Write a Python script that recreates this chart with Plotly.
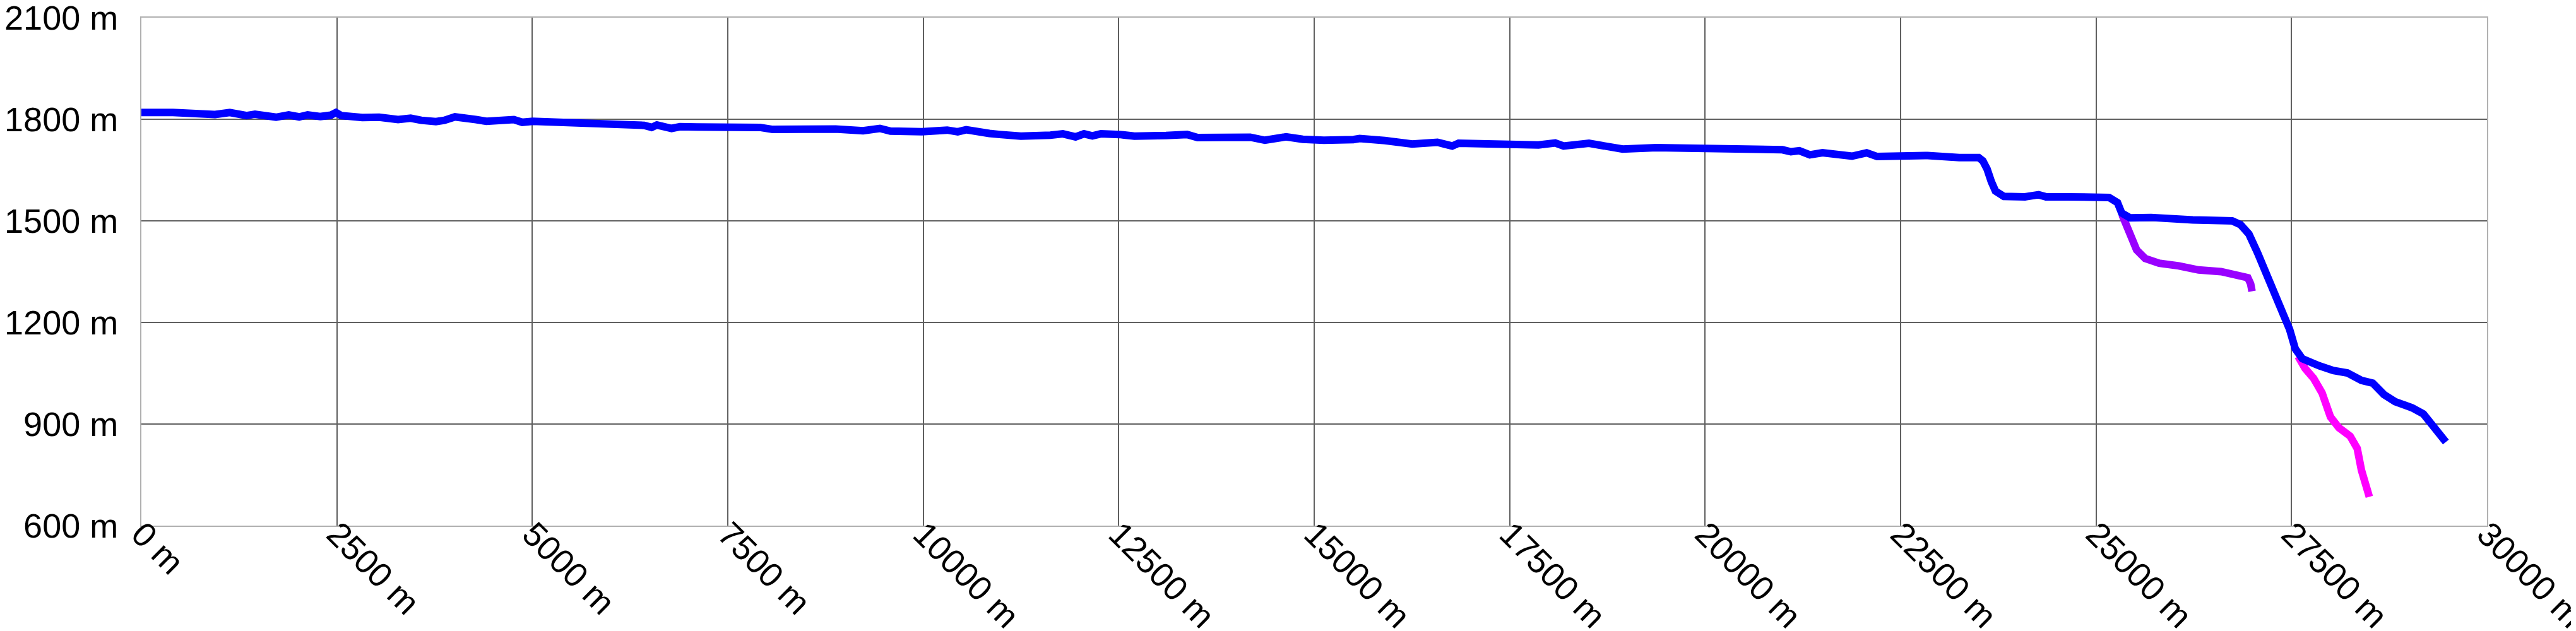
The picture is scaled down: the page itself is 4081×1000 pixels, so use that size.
import plotly.graph_objects as go

# Main profile (blue)
main_x = [0, 404, 942, 1130, 1346, 1453, 1722, 1884, 2018, 2126, 2287, 2422, 2489, 2556, 2826, 3041, 3283, 3444, 3579, 3767,
          3875, 4010, 4279, 4413, 4763, 4871, 5005, 5490, 6028, 6431, 6526, 6593, 6781, 6889, 7104, 7508, 7589,
          7750, 7911, 8073, 8557, 8880, 9230, 9445, 9580, 9983, 10306, 10441, 10549, 10710, 10845, 10979, 11248,
          11625, 11786, 11948, 12056, 12163, 12271, 12513, 12701, 13105, 13374, 13509, 13912, 14181, 14370, 14639, 14854, 15123,
          15500, 15581, 15904, 16253, 16576, 16765, 16846, 17249, 17518, 17868, 18083, 18190, 18514, 18810, 18944,
          19375, 19644, 19779, 20182, 20586, 20774, 20989, 21097, 21205, 21339, 21501, 21878, 22066, 22200, 22497, 22658, 22766, 22846,
          23250, 23498, 23552, 23606, 23660, 23713, 23821, 24090, 24265, 24359, 24628, 25166, 25274, 25328, 25435, 25704,
          26236, 26740, 26847, 26955, 27063, 27171, 27315, 27423, 27476, 27548, 27638, 27854, 28034, 28214, 28394, 28538,
          28682, 28826, 29042, 29186, 29330, 29474]
main_y = [1820, 1820, 1814, 1820, 1811, 1815, 1806, 1813, 1807, 1813, 1808, 1812, 1820, 1811, 1805, 1806, 1799, 1803, 1797, 1793,
          1797, 1807, 1799, 1794, 1799, 1791, 1794, 1791, 1784, 1782, 1776, 1783, 1773, 1778, 1777, 1777, 1779,
          1774, 1776, 1770, 1772, 1771, 1766, 1773, 1765, 1763, 1768, 1763, 1769, 1766, 1758, 1755, 1750,
          1753, 1757, 1748, 1757, 1751, 1757, 1755, 1750, 1752, 1755, 1746, 1747, 1747, 1738, 1748, 1741, 1738,
          1740, 1743, 1737, 1727, 1732, 1721, 1729, 1726, 1727, 1724, 1730, 1721, 1729, 1720, 1712,
          1716, 1715, 1718, 1712, 1715, 1712, 1710, 1704, 1707, 1695, 1701, 1691, 1701, 1690, 1690, 1693, 1690, 1693,
          1687, 1687, 1677, 1653, 1616, 1588, 1572, 1571, 1577, 1571, 1571, 1569, 1554, 1523, 1509, 1510,
          1503, 1500, 1489, 1461, 1407, 1350, 1272, 1215, 1179, 1122, 1093, 1072, 1058, 1051, 1029, 1021,
          987, 966, 948, 930, 888, 847]

# Branch 1 (violet)
branch1_x = [25333, 25411, 25519, 25627, 25807, 26059, 26311, 26599, 26815, 26941, 26977, 26995]
branch1_y = [1518, 1471, 1414, 1389, 1375, 1367, 1355, 1350, 1342, 1332, 1314, 1292]

# Branch 2 (magenta)
branch2_x = [27584, 27674, 27782, 27890, 27998, 28106, 28250, 28340, 28394, 28448, 28495]
branch2_y = [1100, 1064, 1035, 992, 921, 889, 864, 828, 764, 721, 685]

x_ticks = list(range(0, 30001, 2500))
y_ticks = list(range(600, 2101, 300))

fig = go.Figure()
fig.add_trace(go.Scatter(x=branch1_x, y=branch1_y, mode="lines",
                         line=dict(color="#9900FF", width=12), showlegend=False))
fig.add_trace(go.Scatter(x=branch2_x, y=branch2_y, mode="lines",
                         line=dict(color="#FF00FF", width=12), showlegend=False))
fig.add_trace(go.Scatter(x=main_x, y=main_y, mode="lines",
                         line=dict(color="#0000FF", width=12), showlegend=False))

font = dict(family="Liberation Sans, Arial, sans-serif", size=54, color="black")

fig.update_layout(
    width=4081, height=1000,
    margin=dict(l=216, r=149, t=20, b=175, autoexpand=False),
    paper_bgcolor="white", plot_bgcolor="white",
    font=font,
    xaxis=dict(range=[0, 30000], tickvals=x_ticks, ticktext=[f"{v} m" for v in x_ticks],
               tickangle=45, showgrid=True, gridcolor="#606060", gridwidth=1.5,
               zeroline=False, showline=True, linecolor="#b0b0b0", linewidth=2, mirror=True,
               ticks="", tickfont=font, automargin=False, ticklabeloverflow="allow",
               ticklabelstandoff=-42),
    yaxis=dict(range=[600, 2100], tickvals=y_ticks, ticktext=[f"{v} m" for v in y_ticks],
               showgrid=True, gridcolor="#606060", gridwidth=1.5,
               zeroline=False, showline=True, linecolor="#b0b0b0", linewidth=2, mirror=True,
               ticks="", ticklabelstandoff=24, tickfont=font, automargin=False,
               ticklabeloverflow="allow"),
)

fig.write_html("out.html")
